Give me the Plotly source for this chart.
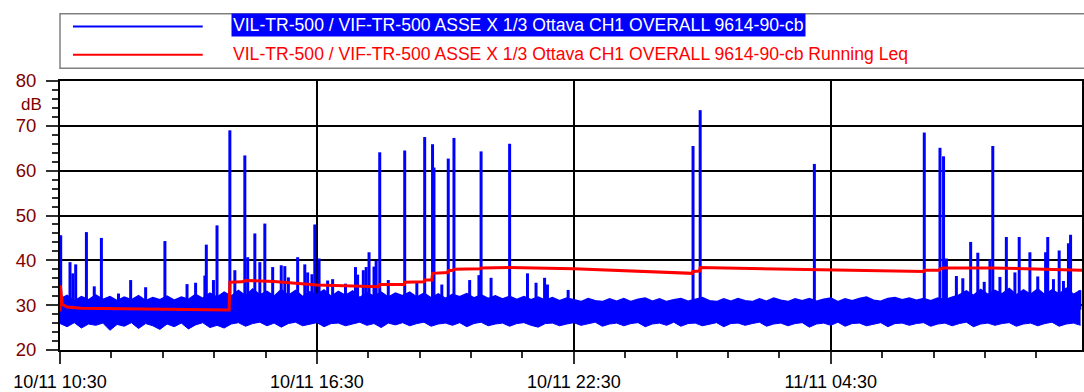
import plotly.graph_objects as go
import pandas as pd

# ---------------- data ----------------
start = pd.Timestamp("2023-11-10 10:30")
end = pd.Timestamp("2023-11-11 10:22")

# blue series: 10-minute envelope of the background noise band (dB)
band_lo = [
    25.9, 25.2, 26.1, 24.9, 25.8, 25.5, 26.0, 24.4, 25.7, 25.3, 26.1, 24.8, 25.9, 25.4, 24.6, 25.8, 25.2, 26.0, 24.7, 25.6, 26.1, 25.0, 25.5, 24.9,
    25.8, 26.1, 25.3, 25.9, 26.2, 25.4, 26.0, 25.1, 25.9, 26.2, 25.4, 25.8, 26.1, 25.2, 25.9, 26.0, 25.4, 25.8, 26.2, 25.5, 25.9, 25.0, 26.0, 25.6,
    26.1, 25.4, 25.9, 26.2, 25.3, 25.8, 26.0, 25.5, 26.1, 25.2, 25.9, 26.2, 25.4, 25.8, 26.0, 25.3, 25.9, 26.1, 25.5, 25.1, 25.9, 26.0, 25.4, 25.8,
    26.1, 25.5, 25.9, 26.2, 25.3, 25.8, 26.0, 25.4, 25.9, 26.1, 25.2, 25.8, 26.0, 25.5, 26.2, 25.3, 25.9, 26.0, 25.4, 25.8, 26.1, 25.2, 25.9, 26.0,
    25.5, 25.9, 26.2, 25.3, 25.8, 26.0, 25.4, 25.9, 26.1, 25.1, 25.8, 26.0, 25.5, 26.2, 25.3, 25.9, 26.0, 25.4, 25.8, 26.1, 25.2, 25.9, 26.0, 25.5,
    25.9, 26.1, 25.3, 25.8, 26.0, 25.4, 25.9, 26.2, 25.2, 25.8, 26.0, 25.5, 25.9, 26.1, 25.3, 25.8, 26.0, 25.4, 25.9, 26.2, 25.3, 25.8, 26.0, 25.5,
]
band_hi = [
    31.4, 32.2, 30.9, 31.9, 31.2, 32.3, 31.3, 31.9, 31.0, 31.8, 31.2, 32.1, 31.0, 31.7, 31.2, 32.0, 31.1, 31.8, 31.3, 32.4, 31.5, 32.7, 31.8, 32.9,
    32.0, 33.3, 32.1, 33.6, 32.3, 33.1, 32.0, 33.5, 32.2, 33.3, 31.9, 33.0, 32.4, 33.4, 31.9, 33.1, 32.2, 33.2, 31.7, 32.8, 32.0, 32.9, 31.8, 32.7,
    32.1, 32.9, 31.8, 32.7, 31.6, 32.5, 31.5, 32.4, 31.9, 32.6, 31.6, 32.3, 31.5, 32.1, 31.4, 32.0, 31.3, 31.9, 31.2, 31.8, 31.1, 31.7, 31.0, 31.6,
    31.2, 30.8, 31.5, 31.0, 30.8, 31.4, 30.9, 31.5, 30.8, 31.3, 31.6, 30.9, 31.4, 30.8, 31.2, 31.5, 30.9, 31.3, 31.7, 31.0, 30.8, 31.4, 30.9, 31.5,
    31.0, 30.8, 31.4, 30.9, 31.6, 31.1, 30.8, 31.4, 31.0, 31.5, 30.9, 31.3, 31.6, 30.8, 31.4, 31.0, 31.5, 31.8, 31.1, 30.9, 31.5, 31.7, 31.2, 31.6,
    31.1, 31.5, 31.0, 31.6, 31.2, 31.8, 32.3, 33.2, 32.2, 33.5, 32.4, 33.3, 32.5, 33.7, 32.3, 33.4, 32.4, 33.6, 32.3, 33.4, 32.5, 33.8, 32.4, 33.3,
]
band_times = pd.date_range(start, periods=len(band_lo), freq="10min")

# blue series: short events rising above the background
spike_times = [
    "2023-11-10 10:31", "2023-11-10 10:44", "2023-11-10 10:48", "2023-11-10 10:52", "2023-11-10 11:07",
    "2023-11-10 11:18", "2023-11-10 11:28", "2023-11-10 11:52", "2023-11-10 12:09", "2023-11-10 12:57",
    "2023-11-10 13:28", "2023-11-10 13:53", "2023-11-10 13:55", "2023-11-10 14:05", "2023-11-10 14:10",
    "2023-11-10 14:28", "2023-11-10 14:35", "2023-11-10 14:49", "2023-11-10 14:53", "2023-11-10 15:03",
    "2023-11-10 15:10", "2023-11-10 15:17", "2023-11-10 15:28", "2023-11-10 15:40", "2023-11-10 15:45",
    "2023-11-10 16:03", "2023-11-10 16:13", "2023-11-10 16:17", "2023-11-10 16:23", "2023-11-10 16:27",
    "2023-11-10 16:33", "2023-11-10 16:52", "2023-11-10 17:24", "2023-11-10 17:27", "2023-11-10 17:35",
    "2023-11-10 17:39", "2023-11-10 17:43", "2023-11-10 17:50", "2023-11-10 17:53", "2023-11-10 17:58",
    "2023-11-10 18:33", "2023-11-10 19:01", "2023-11-10 19:12", "2023-11-10 19:14", "2023-11-10 19:34",
    "2023-11-10 19:42", "2023-11-10 20:04", "2023-11-10 20:17", "2023-11-10 20:20", "2023-11-10 20:34",
    "2023-11-10 21:00", "2023-11-10 21:25", "2023-11-10 21:37", "2023-11-10 21:49", "2023-11-10 21:53",
    "2023-11-10 22:22",
    "2023-11-11 01:17", "2023-11-11 01:27", "2023-11-11 04:07", "2023-11-11 06:41", "2023-11-11 07:03",
    "2023-11-11 07:08", "2023-11-11 07:12", "2023-11-11 07:26", "2023-11-11 07:46", "2023-11-11 07:56",
    "2023-11-11 08:13", "2023-11-11 08:17", "2023-11-11 08:27", "2023-11-11 08:36", "2023-11-11 08:48",
    "2023-11-11 08:54", "2023-11-11 09:09", "2023-11-11 09:31", "2023-11-11 09:34", "2023-11-11 09:50",
    "2023-11-11 09:56", "2023-11-11 10:03", "2023-11-11 10:06", "2023-11-11 10:19",
    "2023-11-10 12:30", "2023-11-10 13:40", "2023-11-10 15:50", "2023-11-10 16:45", "2023-11-10 17:10",
    "2023-11-10 18:10", "2023-11-10 18:50", "2023-11-10 19:25", "2023-11-11 07:35", "2023-11-11 08:05",
    "2023-11-11 09:20", "2023-11-11 09:42",
]
spike_peaks = [
    45.6, 39.6, 37.1, 39.1, 46.3,
    34.2, 45.0, 32.6, 35.6, 44.3,
    34.7, 36.6, 43.5, 35.6, 47.8,
    69.0, 37.8, 63.4, 40.7, 46.0,
    39.6, 48.2, 38.5, 38.9, 38.7,
    40.7, 39.1, 37.3, 36.9, 48.0,
    40.4, 35.8, 38.5, 36.8, 37.8,
    38.5, 41.8, 38.6, 39.9, 64.1,
    64.5, 67.5, 65.9, 60.7, 62.7,
    67.3, 35.6, 36.7, 64.3, 36.1,
    66.0, 37.1, 35.0, 36.1, 34.6,
    33.4,
    65.5, 73.5, 61.5, 68.5, 65.1,
    63.2, 40.4, 36.5, 44.1, 41.7,
    40.2, 65.5, 36.3, 45.2, 37.3,
    45.2, 41.8, 41.8, 45.2, 42.2,
    35.4, 43.8, 45.7, 33.3,
    34.0, 35.0, 36.2, 35.5, 34.8,
    35.6, 35.0, 34.6, 36.0, 35.2,
    36.4, 35.8,
]
spike_base = 29.0

# red series: running Leq (dB)
leq_times = [
    "2023-11-10 10:30:00", "2023-11-10 10:30:30", "2023-11-10 10:33:00", "2023-11-10 10:40:00", "2023-11-10 11:00:00",
    "2023-11-10 12:00:00", "2023-11-10 13:00:00", "2023-11-10 14:27:00", "2023-11-10 14:28:00", "2023-11-10 14:45:00",
    "2023-11-10 14:50:00", "2023-11-10 15:30:00", "2023-11-10 16:30:00", "2023-11-10 17:30:00", "2023-11-10 17:57:00",
    "2023-11-10 17:58:00", "2023-11-10 18:32:00", "2023-11-10 18:33:00", "2023-11-10 19:00:00", "2023-11-10 19:01:00",
    "2023-11-10 19:11:00", "2023-11-10 19:12:00", "2023-11-10 19:33:00", "2023-11-10 19:34:00", "2023-11-10 19:41:00",
    "2023-11-10 19:42:00", "2023-11-10 20:19:00", "2023-11-10 20:20:00", "2023-11-10 20:59:00", "2023-11-10 21:00:00",
    "2023-11-10 22:30:00", "2023-11-11 01:16:00", "2023-11-11 01:17:00", "2023-11-11 01:26:00", "2023-11-11 01:27:00",
    "2023-11-11 04:06:00", "2023-11-11 04:07:00", "2023-11-11 06:40:00", "2023-11-11 06:41:00", "2023-11-11 07:02:00",
    "2023-11-11 07:03:00", "2023-11-11 07:08:00", "2023-11-11 08:17:00", "2023-11-11 10:22:00",
]
leq_values = [
    28.6, 34.4, 30.2, 29.6, 29.3,
    29.2, 29.0, 28.9, 35.1, 35.2,
    35.5, 35.3, 34.5, 34.2, 34.1,
    34.6, 34.6, 35.1, 35.2, 35.6,
    35.6, 37.1, 37.3, 37.7, 37.8,
    38.0, 38.1, 38.3, 38.3, 38.4,
    38.1, 37.1, 37.5, 37.6, 38.4,
    38.0, 38.0, 37.5, 37.8, 37.8,
    38.1, 38.3, 38.3, 37.8,
]

legend_names = [
    "VIL-TR-500 / VIF-TR-500 ASSE X 1/3 Ottava CH1 OVERALL 9614-90-cb",
    "VIL-TR-500 / VIF-TR-500 ASSE X 1/3 Ottava CH1 OVERALL 9614-90-cb Running Leq",
]
y_unit = "dB"

# ---------------- figure ----------------
BLUE = "#0000FF"
RED = "#FF0000"
MAROON = "#800000"
FONT = "Liberation Sans, Arial, sans-serif"

W, H = 1084, 392
ML, MR, MT, MB = 60, 0, 81, 35
PW, PH = W - ML - MR, H - MT - MB


def px(x):
    return (x - ML) / PW


def py(y):
    return (H - MB - y) / PH


fig = go.Figure()

fig.add_trace(go.Scatter(x=band_times, y=band_lo, mode="lines",
                         line=dict(color=BLUE, width=1), hoverinfo="skip", showlegend=False))
fig.add_trace(go.Scatter(x=band_times, y=band_hi, mode="lines", fill="tonexty",
                         fillcolor=BLUE, line=dict(color=BLUE, width=1.5),
                         name=legend_names[0], showlegend=False))

sx, sy = [], []
for t, p in zip(spike_times, spike_peaks):
    ts = pd.Timestamp(t)
    sx += [ts, ts, None]
    sy += [spike_base, p, None]
fig.add_trace(go.Scatter(x=sx, y=sy, mode="lines", line=dict(color=BLUE, width=3),
                         hoverinfo="skip", showlegend=False))

fig.add_trace(go.Scatter(x=[pd.Timestamp(t) for t in leq_times], y=leq_values, mode="lines",
                         line=dict(color=RED, width=3), name=legend_names[1], showlegend=False))

# legend drawn by hand (box, sample lines, texts)
fig.add_shape(type="rect", xref="paper", yref="paper", x0=px(60), x1=px(1200), y0=py(68), y1=py(12),
              line=dict(color="#808080", width=1.5), fillcolor="rgba(0,0,0,0)", layer="above")
fig.add_shape(type="line", xref="paper", yref="paper", x0=px(73), x1=px(203), y0=py(25), y1=py(25),
              line=dict(color=BLUE, width=2))
fig.add_shape(type="line", xref="paper", yref="paper", x0=px(73), x1=px(203), y0=py(54), y1=py(54),
              line=dict(color=RED, width=2))
fig.add_annotation(x=px(231), y=py(24), xref="paper", yref="paper", xanchor="left", yanchor="middle",
                   text=legend_names[0], showarrow=False, bgcolor=BLUE, borderpad=1,
                   font=dict(family=FONT, size=17.6, color="white"))
fig.add_annotation(x=px(231), y=py(53), xref="paper", yref="paper", xanchor="left", yanchor="middle",
                   text=legend_names[1], showarrow=False, borderpad=1,
                   font=dict(family=FONT, size=17.6, color=RED))
fig.add_annotation(x=0, y=py(105), xref="paper", yref="paper", xanchor="right", yanchor="middle",
                   xshift=-16, text=y_unit, showarrow=False,
                   font=dict(family=FONT, size=17, color=MAROON))

fig.update_layout(
    width=W, height=H,
    margin=dict(l=ML, r=MR, t=MT, b=MB),
    paper_bgcolor="white", plot_bgcolor="white",
    showlegend=False,
    font=dict(family=FONT, size=18, color="black"),
)

fig.update_xaxes(
    type="date",
    range=[start, end],
    tick0="2023-11-10 10:30", dtick=6 * 3600000,
    tickformat="%d/%m %H:%M",
    ticks="outside", ticklen=12, tickwidth=1.5, tickcolor="#303030",
    tickfont=dict(family=FONT, size=18, color="black"),
    ticklabelstandoff=2,
    showgrid=True, gridcolor="black", gridwidth=1.5,
    showline=True, linecolor="black", linewidth=2, mirror=True,
    minor=dict(dtick=72 * 60000, tick0="2023-11-10 10:30", ticks="outside", ticklen=6,
               tickwidth=1.5, tickcolor="#303030", showgrid=False),
    zeroline=False,
)
fig.update_yaxes(
    range=[20, 80], dtick=10,
    ticks="outside", ticklen=12, tickwidth=1.5, tickcolor="#303030",
    tickfont=dict(family=FONT, size=18.5, color=MAROON),
    ticklabelstandoff=6,
    showgrid=True, gridcolor="black", gridwidth=1.5,
    showline=True, linecolor="black", linewidth=2, mirror=True,
    minor=dict(dtick=2, ticks="outside", ticklen=6, tickwidth=1.5, tickcolor="#303030", showgrid=False),
    zeroline=False,
)

fig.write_html("out.html", config={"displayModeBar": False})
